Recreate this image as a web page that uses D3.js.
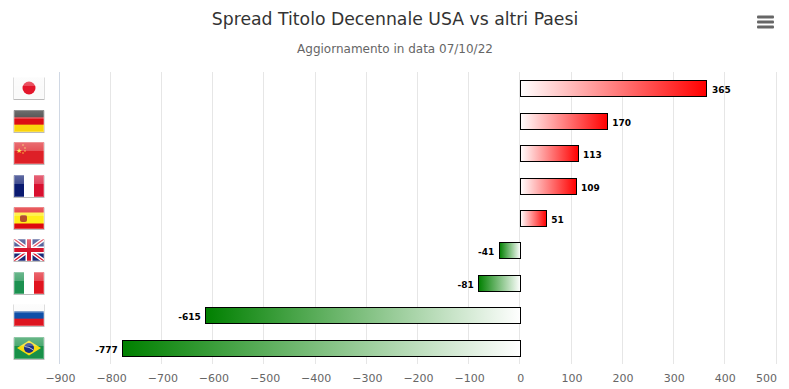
<!DOCTYPE html>
<html lang="en">
  <head>
    <meta charset="utf-8" />
    <title>Spread Titolo Decennale</title>
    <script src="https://d3js.org/d3.v7.min.js"></script>
    <style type="text/css">
      html, body { margin: 0; padding: 0; background: #fff; }
      svg { display: block; }
      text { font-family: "DejaVu Sans", sans-serif; }
      .title { font-size: 17.25px; fill: #333; }
      .subtitle { font-size: 12px; fill: #666; }
      .tick text { font-size: 11px; fill: #666; }
      .value { font-size: 9px; font-weight: bold; fill: #000; }
    </style>
  </head>
  <body>
    <script type="text/javascript">
      const w = 789;
      const h = 389;

      // Data
      const countries = ["Giappone", "Germania", "Cina", "Francia", "Spagna", "Regno Unito", "Italia", "Russia", "Brasile"];
      const spreads = [365, 170, 113, 109, 51, -41, -81, -615, -777];
      const tickValues = [-900, -800, -700, -600, -500, -400, -300, -200, -100, 0, 100, 200, 300, 400, 500];

      const x = d3.scaleLinear().domain([-900, 500]).range([60, 776]);
      const xGrid = d3.scaleLinear().domain([-900, 500]).range([59, 776]);
      const y = d3.scaleBand().domain(countries).range([72, 364]);

      const svg = d3.select("body").append("svg").attr("width", w).attr("height", h);
      const defs = svg.append("defs");

      // Bar gradients
      function barGradient(id, c0, c1) {
        const g = defs.append("linearGradient").attr("id", id).attr("x1", 0).attr("x2", 1).attr("y1", 0).attr("y2", 0);
        g.append("stop").attr("offset", 0).attr("stop-color", c0);
        g.append("stop").attr("offset", 1).attr("stop-color", c1);
      }
      barGradient("posBar", "#ffffff", "#ff0000");
      barGradient("negBar", "#008000", "#ffffff");

      // Glossy overlay for the flags
      const gloss = defs.append("linearGradient").attr("id", "gloss").attr("x1", 0).attr("x2", 0).attr("y1", 0).attr("y2", 1);
      gloss.append("stop").attr("offset", 0).attr("stop-color", "#fff").attr("stop-opacity", 0.35);
      gloss.append("stop").attr("offset", 0.42).attr("stop-color", "#fff").attr("stop-opacity", 0.22);
      gloss.append("stop").attr("offset", 0.43).attr("stop-color", "#fff").attr("stop-opacity", 0);
      defs.append("clipPath").attr("id", "flagClip").append("rect").attr("width", 30).attr("height", 22);

      // Titles
      svg.append("text").attr("class", "title").attr("x", 395).attr("y", 25).attr("text-anchor", "middle")
        .text("Spread Titolo Decennale USA vs altri Paesi");
      svg.append("text").attr("class", "subtitle").attr("x", 395).attr("y", 53).attr("text-anchor", "middle")
        .text("Aggiornamento in data 07/10/22");

      // Menu icon
      [17, 22, 27].forEach(function (yy) {
        svg.append("rect").attr("x", 757).attr("y", yy - 1.5).attr("width", 17).attr("height", 3).attr("rx", 1).attr("fill", "#666");
      });

      // Axis
      const axis = svg.append("g").attr("transform", "translate(0," + 364 + ")")
        .call(d3.axisBottom(x).tickValues(tickValues).tickSize(0).tickPadding(10).tickFormat(d3.format("d")));
      axis.select(".domain").remove();
      // the last label is pulled back inside the plot
      axis.selectAll(".tick text").filter(function (d) { return d === 500; }).attr("dx", -10);

      // Grid
      svg.append("g").selectAll("line").data(tickValues).enter().append("line")
        .attr("x1", function (d) { return Math.floor(xGrid(d)) + 0.5; })
        .attr("x2", function (d) { return Math.floor(xGrid(d)) + 0.5; })
        .attr("y1", 72).attr("y2", 364)
        .attr("stroke", function (d) { return d === -900 ? "#d0d8e4" : "#e6e6e6"; });

      // Bars
      const barH = 16;
      svg.append("g").selectAll("rect").data(spreads).enter().append("rect")
        .attr("x", function (d) { return Math.floor(Math.min(x(d), x(0))) + 0.5; })
        .attr("y", function (d, i) { return Math.round(y(countries[i]) + y.bandwidth() / 2 - barH / 2) + 0.5; })
        .attr("width", function (d) { return Math.abs(Math.floor(x(d)) - Math.floor(x(0))); })
        .attr("height", barH)
        .attr("fill", function (d) { return d > 0 ? "url(#posBar)" : "url(#negBar)"; })
        .attr("stroke", "#000");

      // Value labels
      svg.append("g").selectAll("text").data(spreads).enter().append("text")
        .attr("class", "value")
        .attr("x", function (d) { return d > 0 ? x(d) + 5 : x(d) - 5; })
        .attr("y", function (d, i) { return y(countries[i]) + y.bandwidth() / 2 + 5; })
        .attr("text-anchor", function (d) { return d > 0 ? "start" : "end"; })
        .text(function (d) { return d; });

      // Flags, drawn in a 30x22 box
      function stripes(g, cols, vertical) {
        const n = cols.length;
        cols.forEach(function (c, i) {
          g.append("rect")
            .attr("x", vertical ? (i * 30) / n : 0)
            .attr("y", vertical ? 0 : (i * 22) / n)
            .attr("width", vertical ? 30 / n + 0.3 : 30)
            .attr("height", vertical ? 22 : 22 / n + 0.3)
            .attr("fill", c);
        });
      }
      const drawFlag = {
        Giappone: function (g) {
          stripes(g, ["#fafafa"]);
          g.append("circle").attr("cx", 15).attr("cy", 11).attr("r", 6.5).attr("fill", "#e3152a");
        },
        Germania: function (g) { stripes(g, ["#222", "#dd0d14", "#fad40c"]); },
        Cina: function (g) {
          stripes(g, ["#de2027"]);
          g.append("text").attr("x", 2).attr("y", 11).attr("font-size", 7).attr("fill", "#fbe04a").text("★");
          [[9, 3], [11, 6], [11, 9], [9, 11]].forEach(function (p) {
            g.append("circle").attr("cx", p[0]).attr("cy", p[1]).attr("r", 0.7).attr("fill", "#fbe04a");
          });
        },
        Francia: function (g) { stripes(g, ["#0a1a70", "#fff", "#d8102f"], true); },
        Spagna: function (g) {
          g.append("rect").attr("width", 30).attr("height", 22).attr("fill", "#dd0a0f");
          g.append("rect").attr("y", 5.5).attr("width", 30).attr("height", 11).attr("fill", "#ffee1a");
          g.append("rect").attr("x", 6).attr("y", 8).attr("width", 7).attr("height", 7).attr("rx", 2).attr("fill", "#b5512a");
        },
        "Regno Unito": function (g) {
          stripes(g, ["#1a2a78"]);
          g.append("path").attr("d", "M0,0L30,22M30,0L0,22").attr("stroke", "#fff").attr("stroke-width", 4);
          g.append("path").attr("d", "M0,0L30,22M30,0L0,22").attr("stroke", "#d8142c").attr("stroke-width", 1.3);
          g.append("path").attr("d", "M15,0V22M0,11H30").attr("stroke", "#fff").attr("stroke-width", 7);
          g.append("path").attr("d", "M15,0V22M0,11H30").attr("stroke", "#d8142c").attr("stroke-width", 4);
        },
        Italia: function (g) { stripes(g, ["#1c9150", "#fff", "#e0141f"], true); },
        Russia: function (g) { stripes(g, ["#fafafa", "#0f4fa8", "#dd1520"]); },
        Brasile: function (g) {
          stripes(g, ["#189048"]);
          g.append("path").attr("d", "M3,11L15,3.5L27,11L15,18.5Z").attr("fill", "#f8dc10");
          g.append("circle").attr("cx", 15).attr("cy", 11).attr("r", 5).attr("fill", "#1a2f80");
          g.append("path").attr("d", "M10.5,9.5Q15,9.5 19.5,13").attr("fill", "none").attr("stroke", "#dfe6f0").attr("stroke-width", 0.8);
        }
      };

      countries.forEach(function (c) {
        const g = svg.append("g")
          .attr("transform", "translate(14," + Math.round(y(c) + y.bandwidth() / 2 - 11) + ")");
        g.append("rect").attr("x", -0.5).attr("y", 0.5).attr("width", 31).attr("height", 22.5).attr("fill", "#bbb");
        const inner = g.append("g").attr("clip-path", "url(#flagClip)");
        drawFlag[c](inner);
        inner.append("rect").attr("width", 30).attr("height", 22).attr("fill", "url(#gloss)");
        g.append("rect").attr("x", 0.5).attr("y", 0.5).attr("width", 29).attr("height", 21).attr("fill", "none")
          .attr("stroke", "#fff").attr("stroke-opacity", 0.25);
      });
    </script>
  </body>
</html>
